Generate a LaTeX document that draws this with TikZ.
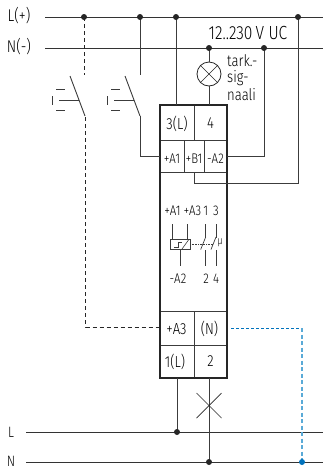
\documentclass[tikz,border=0pt]{standalone}
\usepackage{fontspec}
\setmainfont{Fira Sans Light}[FakeStretch=0.82]
\usepackage{xcolor}
\definecolor{wiregray}{RGB}{60,60,60}
\definecolor{signalblue}{RGB}{0,114,188}
\definecolor{returnblue}{RGB}{90,170,215}
\tikzset{
  wire/.style={draw=wiregray, line width=0.9pt},
  busline/.style={draw=black!80, line width=0.9pt},
  dashwire/.style={draw=black!85, line width=0.9pt, dash pattern=on 4pt off 3pt},
  junction/.style={circle, fill=black!85, inner sep=0pt, minimum size=6pt},
  cell/.style={font=\fontsize{16}{16}\selectfont, inner sep=0pt},
  tiny/.style={font=\fontsize{14}{14}\selectfont, inner sep=0pt},
  busname/.style={font=\fontsize{17}{17}\selectfont, inner sep=0pt},
  mainname/.style={font=\fontsize{15}{15}\selectfont, inner sep=0pt}
}
\begin{document}
\begin{tikzpicture}[x=1pt, y=-1pt]
\useasboundingbox (0,0) rectangle (323,469);

% Supply lines
\coordinate (lplusA) at (45,17);
\coordinate (lplusB) at (323,17);
\coordinate (nminusA) at (45,48);
\coordinate (nminusB) at (323,48);
\draw[busline] (lplusA) -- (lplusB);
\draw[busline] (nminusA) -- (nminusB);
\node[busname] (lplusname) at (19,16) {L(+)};
\node[busname] (nminusname) at (19,47) {N(-)};
\node[font=\fontsize{19}{19}\selectfont, inner sep=0pt] (voltage) at (248,33) {12..230\,V UC};

% Mains lines
\coordinate (lmainA) at (26,432);
\coordinate (lmainB) at (323,432);
\coordinate (nmainA) at (26,462);
\coordinate (nmainB) at (323,462);
\draw[busline] (lmainA) -- (lmainB);
\draw[busline] (nmainA) -- (nmainB);
\node[mainname] (lmainname) at (11,432) {L};
\node[mainname] (nmainname) at (11,461.5) {N};

% Relay housing
\draw[line width=0.7pt, draw=wiregray] (160,140.5) -- (227,140.5);
\draw[line width=0.7pt, draw=wiregray] (160,172) -- (227,172);
\draw[line width=0.7pt, draw=wiregray] (160,311) -- (227,311);
\draw[line width=0.7pt, draw=wiregray] (160,345) -- (227,345);
\draw[line width=0.7pt, draw=wiregray] (194,105) -- (194,140.5);
\draw[line width=0.7pt, draw=wiregray] (184,140.5) -- (184,172);
\draw[line width=0.7pt, draw=wiregray] (204,140.5) -- (204,172);
\draw[line width=0.7pt, draw=wiregray] (194,311) -- (194,378);
\draw[line width=1.8pt, draw=black!85] (160,105) rectangle (227,378);

% Terminal labels
\node[cell] (tthree) at (177,123.5) {3(L)};
\node[cell] (tfour) at (210.5,123.5) {4};
\node[tiny] (taone) at (172,158.5) {+A1};
\node[tiny] (tbone) at (194,158.5) {+B1};
\node[tiny] (tatwo) at (215.5,158.5) {-A2};
\node[cell] (tathree) at (176.5,329) {+A3};
\node[cell] (tneutral) at (209.5,329) {(N)};
\node[cell] (tone) at (175,361.5) {1(L)};
\node[cell] (ttwo) at (210.5,361.5) {2};

% Switches
\foreach \sx/\sname in {0/first, 55/second} {
  \begin{scope}[xshift=\sx pt]
    \draw[wire] (70,76) -- (85,116);
    \draw[wire] (59,100) -- (79,100);
    \draw[wire] (56,89.5) -- (65,89.5);
    \draw[wire] (56,110) -- (65,110);
    \draw[wire] (52.5,96) -- (52.5,105);
  \end{scope}
}

% Switch feeds
\coordinate (jfirst) at (84,17);
\coordinate (jsecond) at (140,17);
\coordinate (jthree) at (176,17);
\coordinate (jbone) at (298,17);
\coordinate (jlamp) at (209,48);
\coordinate (jatwo) at (264,48);
\coordinate (jmainl) at (177,432);
\coordinate (jmainn) at (209,462);
\coordinate (jblue) at (302,462);
\draw[dashwire] (jfirst) -- (84,75);
\draw[dashwire] (85.5,117) -- (85.5,327) -- (160,327);
\draw[wire] (jsecond) -- (140,75);
\draw[wire] (140,116) -- (140,156.5) -- (160,156.5);
\draw[wire] (jthree) -- (176,105);
\draw[wire] (227,156.5) -- (264,156.5) -- (jatwo);
\draw[wire] (194,172) -- (194,183) -- (298,183) -- (jbone);

% Signal lamp
\node[circle, draw=black!85, line width=0.8pt, minimum size=24pt, inner sep=0pt] (lamp) at (209,74) {};
\draw[line width=0.7pt, draw=black!85] (lamp.north west) -- (lamp.south east);
\draw[line width=0.7pt, draw=black!85] (lamp.north east) -- (lamp.south west);
\draw[wire] (jlamp) -- (lamp);
\draw[wire] (lamp) -- (209,105);
\node[cell, anchor=west] (tark) at (227,61) {tark.-};
\node[cell, anchor=west] (sig) at (227,78) {sig-};
\node[cell, anchor=west] (naali) at (227,95) {naali};

% Relay symbol
\node[tiny] (symaone) at (172.5,211) {+A1};
\node[tiny] (symathree) at (192.5,211) {+A3};
\node[tiny] (symone) at (205.7,211) {1};
\node[tiny] (symthree) at (216,211) {3};
\node[tiny] (symatwo) at (178,279) {-A2};
\node[tiny] (symtwo) at (206,279) {2};
\node[tiny] (symfour) at (216,279) {4};
\node[font=\fontsize{11}{11}\selectfont, inner sep=0pt] (mu) at (220,243) {µ};
\draw[line width=0.7pt, draw=wiregray] (172.5,224) -- (172.5,239);
\draw[line width=0.7pt, draw=wiregray] (187,224) -- (187,239);
\draw[line width=0.8pt, draw=wiregray] (170,239) rectangle (190,249);
\draw[line width=0.6pt, draw=wiregray] (174,247.5) -- (178,247.5) -- (178,242.5) -- (182,242.5);
\draw[line width=0.6pt, draw=wiregray] (188.5,240) -- (182,249);
\draw[line width=0.7pt, draw=wiregray] (180,249) -- (180,266);
\foreach \cx in {205.7, 216} {
  \draw[line width=0.7pt, draw=wiregray] (\cx,224) -- (\cx,238);
  \draw[line width=0.7pt, draw=wiregray] (\cx,250) -- (\cx,266);
  \draw[line width=0.7pt, draw=wiregray] (\cx-5,249.5) -- (\cx,237);
}
\draw[line width=0.6pt, draw=wiregray, densely dotted] (190,244) -- (213,244);

% Neutral link
\draw[draw=signalblue, line width=0.8pt, dash pattern=on 3pt off 2pt] (231,328) -- (302,328);
\draw[draw=returnblue, line width=1.4pt, dash pattern=on 4pt off 2.5pt] (302,328) -- (jblue);

% Load
\draw[wire] (177,378) -- (jmainl);
\draw[wire] (209,378) -- (jmainn);
\draw[line width=0.7pt, draw=black!85] (196.5,393) -- (221.5,418);
\draw[line width=0.7pt, draw=black!85] (221.5,393) -- (196.5,418);

% Junction dots
\foreach \jname in {jfirst, jsecond, jthree, jbone, jlamp, jatwo, jmainl, jmainn} {
  \node[junction] at (\jname) {};
}
\node[junction, fill=signalblue] at (jblue) {};

\end{tikzpicture}
\end{document}
